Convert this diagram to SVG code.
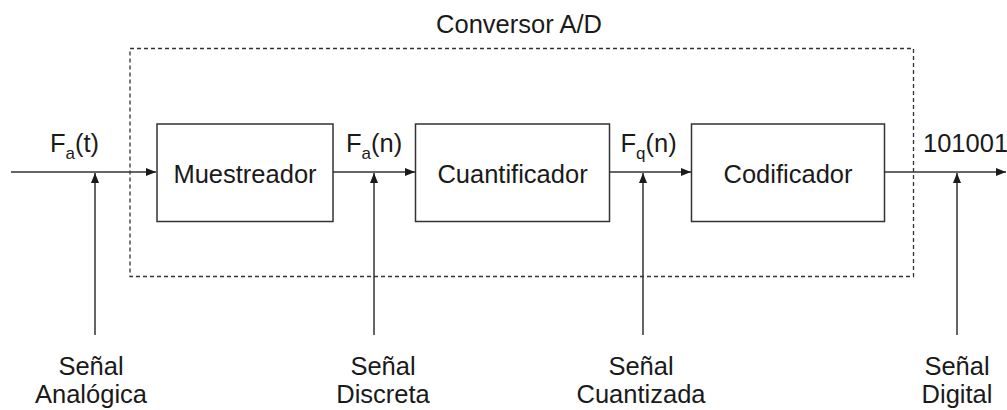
<svg xmlns="http://www.w3.org/2000/svg" width="1007" height="410" viewBox="0 0 1007 410">
  <style>
    text { font-family: "Liberation Sans", Arial, sans-serif; font-size: 25.5px; fill: #1a1a1a; }
    .box { fill: #ffffff; stroke: #333333; stroke-width: 1.5; }
    .line { fill: none; stroke: #333333; stroke-width: 1.5; }
    .dash { fill: none; stroke: #333333; stroke-width: 1.3; stroke-dasharray: 4 3; }
    .mid { text-anchor: middle; }
    .sub { font-size: 17px; }
  </style>
  <defs>
    <marker id="arrow" viewBox="0 0 10 8" refX="10" refY="4" markerWidth="10" markerHeight="8" markerUnits="userSpaceOnUse" orient="auto">
      <path d="M0,0 L10,4 L0,8 Z" fill="#1a1a1a"/>
    </marker>
  </defs>
  <rect width="1007" height="410" fill="#ffffff"/>

  <g id="converter">
    <rect class="dash" x="130" y="48.5" width="783.5" height="228"/>
    <text class="mid" x="519" y="33">Conversor A/D</text>
  </g>

  <g id="connectors">
    <line class="line" x1="11" y1="172" x2="156" y2="172" marker-end="url(#arrow)"/>
    <line class="line" x1="333" y1="172" x2="415" y2="172" marker-end="url(#arrow)"/>
    <line class="line" x1="609" y1="172" x2="691" y2="172" marker-end="url(#arrow)"/>
    <line class="line" x1="884" y1="172" x2="1006" y2="172" marker-end="url(#arrow)"/>
    <line class="line" x1="95" y1="335" x2="95" y2="173" marker-end="url(#arrow)"/>
    <line class="line" x1="374" y1="335" x2="374" y2="173" marker-end="url(#arrow)"/>
    <line class="line" x1="643" y1="335" x2="643" y2="173" marker-end="url(#arrow)"/>
    <line class="line" x1="957" y1="335" x2="957" y2="173" marker-end="url(#arrow)"/>
  </g>

  <g id="muestreador">
    <rect class="box" x="157" y="124" width="176" height="97.5"/>
    <text class="mid" x="245" y="183">Muestreador</text>
  </g>
  <g id="cuantificador">
    <rect class="box" x="415.5" y="124" width="194" height="97.5"/>
    <text class="mid" x="512.5" y="183">Cuantificador</text>
  </g>
  <g id="codificador">
    <rect class="box" x="691.5" y="124" width="193" height="97.5"/>
    <text class="mid" x="788" y="183">Codificador</text>
  </g>

  <g id="signal-labels">
    <text x="50" y="152">F<tspan class="sub" dy="7">a</tspan><tspan dy="-7">(t)</tspan></text>
    <text x="346" y="152">F<tspan class="sub" dy="7">a</tspan><tspan dy="-7">(n)</tspan></text>
    <text x="620.5" y="152">F<tspan class="sub" dy="7">q</tspan><tspan dy="-7">(n)</tspan></text>
    <text x="923" y="152">101001</text>
  </g>

  <g id="analogica">
    <text class="mid" x="91" y="375">Señal</text>
    <text class="mid" x="91" y="403">Analógica</text>
  </g>
  <g id="discreta">
    <text class="mid" x="383" y="375">Señal</text>
    <text class="mid" x="383" y="403">Discreta</text>
  </g>
  <g id="cuantizada">
    <text class="mid" x="641" y="375">Señal</text>
    <text class="mid" x="641" y="403">Cuantizada</text>
  </g>
  <g id="digital">
    <text class="mid" x="957" y="375">Señal</text>
    <text class="mid" x="957" y="403">Digital</text>
  </g>
</svg>
